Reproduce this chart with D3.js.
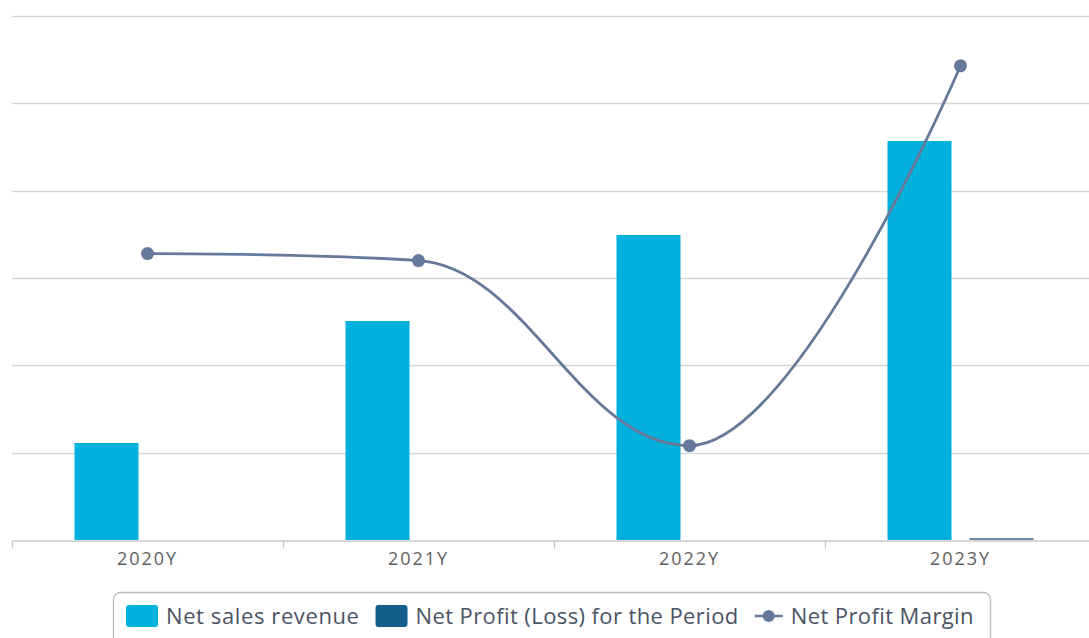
<!DOCTYPE html>
<html>
<head>
<meta charset="utf-8">
<script src="https://cdn.jsdelivr.net/npm/d3@7"></script>
<style>
  body { margin: 0; background: #fff; }
  svg { display: block; font-family: "Open Sans", sans-serif; }
</style>
</head>
<body>
<script>
/********************************************************/
// chart data
const years = ["2020Y", "2021Y", "2022Y", "2023Y"];
const netSales = [111, 251, 349, 457];
const netProfit = [0.36, 0.5, 0.38, 2.48];
const profitMargin = [3.28, 3.2, 1.08, 5.43];
const leftTicks = [0, 100, 200, 300, 400, 500, 600];

/********************************************************/
const svgWidth = 1089;
const svgHeight = 638;

const plot = { left: 12, right: 1096, top: 16, bottom: 540 };

const svg = d3
  .select("body")
  .append("svg")
  .attr("width", svgWidth)
  .attr("height", svgHeight);

/************** scales ************/
let xScale = d3
  .scaleBand()
  .domain(years)
  .range([plot.left, plot.right]);

let ySales = d3
  .scaleLinear()
  .domain([0, 600])
  .range([plot.bottom, plot.top]);

let yMargin = d3
  .scaleLinear()
  .domain([0, 6])
  .range([plot.bottom, plot.top]);

/************** gridlines ************/
svg
  .append("g")
  .selectAll("line")
  .data(leftTicks.slice(1))
  .enter()
  .append("line")
  .attr("x1", plot.left)
  .attr("x2", plot.right)
  .attr("y1", (d) => Math.round(ySales(d)) + 0.5)
  .attr("y2", (d) => Math.round(ySales(d)) + 0.5)
  .attr("stroke", "#d6d6d6")
  .attr("stroke-width", 1.3);

/************** bars ************/
const barWidth = 64;
const barGap = 18;

// crisp bars: round top edge like the original renderer
const barTop = (v) => Math.round(ySales(v));

svg
  .append("g")
  .selectAll("rect")
  .data(years)
  .enter()
  .append("rect")
  .attr("x", (d) => xScale(d) + xScale.bandwidth() / 2 - barGap / 2 - barWidth)
  .attr("y", (d, i) => barTop(netSales[i]))
  .attr("width", barWidth)
  .attr("height", (d, i) => plot.bottom - barTop(netSales[i]))
  .attr("fill", "#00b0dd");

svg
  .append("g")
  .selectAll("rect")
  .data(years)
  .enter()
  .append("rect")
  .attr("x", (d) => xScale(d) + xScale.bandwidth() / 2 + barGap / 2)
  .attr("y", (d, i) => barTop(netProfit[i]))
  .attr("width", barWidth)
  .attr("height", (d, i) => plot.bottom - barTop(netProfit[i]))
  .attr("fill", "#6a8ca3");

/************** x axis ************/
let bottomAxis = d3.axisBottom(xScale).tickSize(0).tickPadding(12);

let xAxis = svg
  .append("g")
  .attr("transform", `translate(0, ${plot.bottom + 0.5})`)
  .call(bottomAxis);

xAxis.select(".domain").attr("stroke", "#c8c8c8").attr("stroke-width", 1.3);
xAxis
  .selectAll("text")
  .attr("font-size", "18px")
  .attr("letter-spacing", "2px")
  .attr("fill", "#606060")
  .attr("font-family", "Open Sans, sans-serif");

// ticks on the band edges
xAxis
  .selectAll(".edge")
  .data(years)
  .enter()
  .append("line")
  .classed("edge", true)
  .attr("x1", (d) => Math.round(xScale(d)) + 0.5)
  .attr("x2", (d) => Math.round(xScale(d)) + 0.5)
  .attr("y1", 0)
  .attr("y2", 8)
  .attr("stroke", "#c8c8c8")
  .attr("stroke-width", 1.3);

/************** spline (highcharts style) ************/
function splinePath(pts) {
  const smoothing = 1.5;
  const denom = smoothing + 1;
  let d = `M${pts[0][0]},${pts[0][1]}`;
  let prevRight = null;
  for (let i = 1; i < pts.length; i++) {
    const [px, py] = pts[i];
    let leftX = px, leftY = py, rightX = null, rightY = null;
    if (i < pts.length - 1) {
      const [lx, ly] = pts[i - 1];
      const [nx, ny] = pts[i + 1];
      leftX = (smoothing * px + lx) / denom;
      leftY = (smoothing * py + ly) / denom;
      rightX = (smoothing * px + nx) / denom;
      rightY = (smoothing * py + ny) / denom;
      let correction = 0;
      if (rightX !== leftX) {
        correction = ((rightY - leftY) * (rightX - px)) / (rightX - leftX) + py - rightY;
      }
      leftY += correction;
      rightY += correction;
      if (leftY > ly && leftY > py) {
        leftY = Math.max(ly, py);
        rightY = 2 * py - leftY;
      } else if (leftY < ly && leftY < py) {
        leftY = Math.min(ly, py);
        rightY = 2 * py - leftY;
      }
      if (rightY > ny && rightY > py) {
        rightY = Math.max(ny, py);
        leftY = 2 * py - rightY;
      } else if (rightY < ny && rightY < py) {
        rightY = Math.min(ny, py);
        leftY = 2 * py - rightY;
      }
    }
    const c1 = prevRight || pts[i - 1];
    d += `C${c1[0]},${c1[1]} ${leftX},${leftY} ${px},${py}`;
    prevRight = rightX === null ? null : [rightX, rightY];
  }
  return d;
}

const marginPts = years.map((y, i) => [
  xScale(y) + xScale.bandwidth() / 2,
  yMargin(profitMargin[i]),
]);

svg
  .append("path")
  .attr("d", splinePath(marginPts))
  .attr("fill", "none")
  .attr("stroke", "#67799a")
  .attr("stroke-width", 2.8);

svg
  .append("g")
  .selectAll("circle")
  .data(marginPts)
  .enter()
  .append("circle")
  .attr("cx", (d) => d[0])
  .attr("cy", (d) => d[1])
  .attr("r", 6.5)
  .attr("fill", "#67799a");

/************** legend ************/
const legendItems = [
  { name: "Net sales revenue", type: "bar", color: "#00b0dd" },
  { name: "Net Profit (Loss) for the Period", type: "bar", color: "#125f8c" },
  { name: "Net Profit Margin", type: "line", color: "#67799a" },
];

let legend = svg.append("g");
let legendBox = legend
  .append("rect")
  .attr("fill", "#fff")
  .attr("stroke", "#bcbcbc")
  .attr("stroke-width", 1.3)
  .attr("rx", 7);

let cursor = 126;
const legendY = 616;
legendItems.forEach((item, i) => {
  if (item.type === "bar") {
    legend
      .append("rect")
      .attr("x", cursor)
      .attr("y", legendY - 11)
      .attr("width", 32)
      .attr("height", 22)
      .attr("rx", 3)
      .attr("fill", item.color);
    cursor += 40;
  } else {
    legend
      .append("line")
      .attr("x1", cursor)
      .attr("x2", cursor + 28)
      .attr("y1", legendY)
      .attr("y2", legendY)
      .attr("stroke", item.color)
      .attr("stroke-width", 2.5);
    legend
      .append("circle")
      .attr("cx", cursor + 14)
      .attr("cy", legendY)
      .attr("r", 6)
      .attr("fill", item.color);
    cursor += 36;
  }
  let t = legend
    .append("text")
    .text(item.name)
    .attr("x", cursor)
    .attr("y", legendY + 8)
    .attr("font-size", "22px")
    .attr("letter-spacing", i === 0 ? "0.6px" : "0.4px")
    .attr("fill", "#4a5464");
  cursor += t.node().getComputedTextLength() + 16;
});

legendBox
  .attr("x", 113.5)
  .attr("y", 592.5)
  .attr("width", cursor - 113)
  .attr("height", 60);
</script>
</body>
</html>
